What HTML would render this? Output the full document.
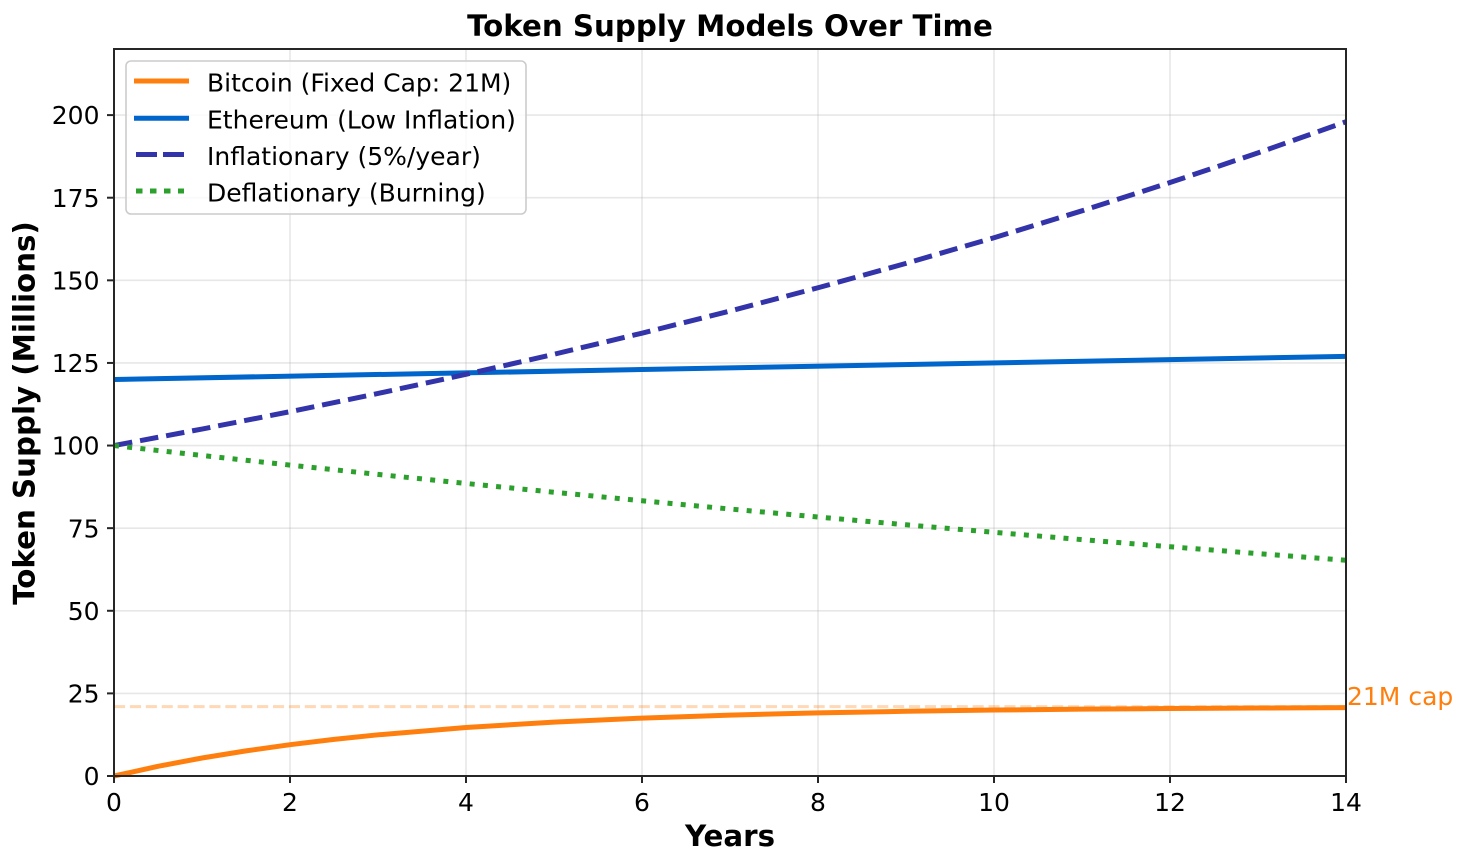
<!DOCTYPE html>
<html>
<head>
<meta charset="utf-8">
<style>
  html, body { margin: 0; padding: 0; background: #ffffff; }
  svg { display: block; }
  text { font-family: "DejaVu Sans", "Liberation Sans", sans-serif; }
</style>
</head>
<body>
<svg width="1466" height="866" viewBox="0 0 1466 866" xmlns="http://www.w3.org/2000/svg">
  <rect x="0" y="0" width="1466" height="866" fill="#ffffff"/>

  <!-- Grid -->
  <g stroke="#b0b0b0" stroke-opacity="0.3" stroke-width="1.6">
    <line x1="114" y1="49" x2="114" y2="776"/>
    <line x1="290" y1="49" x2="290" y2="776"/>
    <line x1="466" y1="49" x2="466" y2="776"/>
    <line x1="642" y1="49" x2="642" y2="776"/>
    <line x1="818" y1="49" x2="818" y2="776"/>
    <line x1="994" y1="49" x2="994" y2="776"/>
    <line x1="1170" y1="49" x2="1170" y2="776"/>
    <line x1="1346" y1="49" x2="1346" y2="776"/>
    <line x1="114" y1="693.39" x2="1346" y2="693.39"/>
    <line x1="114" y1="610.78" x2="1346" y2="610.78"/>
    <line x1="114" y1="528.16" x2="1346" y2="528.16"/>
    <line x1="114" y1="445.55" x2="1346" y2="445.55"/>
    <line x1="114" y1="362.94" x2="1346" y2="362.94"/>
    <line x1="114" y1="280.33" x2="1346" y2="280.33"/>
    <line x1="114" y1="197.71" x2="1346" y2="197.71"/>
    <line x1="114" y1="115.1" x2="1346" y2="115.1"/>
  </g>

  <!-- 21M cap dashed line -->
  <line x1="114" y1="706.6" x2="1346" y2="706.6" stroke="#ff7f0e" stroke-opacity="0.3" stroke-width="3" stroke-dasharray="11.1 4.8"/>

  <!-- Bitcoin -->
  <polyline fill="none" stroke="#ff7f0e" stroke-width="5" stroke-linejoin="round"
    points="114,776 158,766.33 202,758.01 246,750.85 290,744.69 334,739.39 378,734.82 466,727.51 554,722.09 642,718.08 730,715.11 818,712.90 906,711.27 994,710.06 1082,709.17 1170,708.50 1258,708.01 1346,707.65"/>

  <!-- Ethereum -->
  <line x1="114" y1="379.46" x2="1346" y2="356.33" stroke="#0066cc" stroke-width="5"/>

  <!-- Inflationary -->
  <polyline fill="none" stroke="#3333aa" stroke-width="5" stroke-dasharray="18.5 8"
    points="114,445.55 202,429.03 290,411.68 378,393.46 466,374.34 554,354.25 642,333.16 730,311.03 818,287.77 906,263.36 994,237.73 1082,210.82 1170,182.55 1258,152.89 1346,121.73"/>

  <!-- Deflationary -->
  <polyline fill="none" stroke="#2ca02c" stroke-width="5" stroke-dasharray="5 8.25"
    points="114,445.55 202,455.46 290,465.08 378,474.40 466,483.45 554,492.24 642,500.74 730,509.00 818,517.02 906,524.79 994,532.33 1082,539.63 1170,546.73 1258,553.60 1346,560.28"/>

  <!-- Spines -->
  <rect x="114" y="49" width="1232" height="727" fill="none" stroke="#262626" stroke-width="2"/>

  <!-- Ticks -->
  <g stroke="#262626" stroke-width="2">
    <line x1="114" y1="776" x2="114" y2="783"/>
    <line x1="290" y1="776" x2="290" y2="783"/>
    <line x1="466" y1="776" x2="466" y2="783"/>
    <line x1="642" y1="776" x2="642" y2="783"/>
    <line x1="818" y1="776" x2="818" y2="783"/>
    <line x1="994" y1="776" x2="994" y2="783"/>
    <line x1="1170" y1="776" x2="1170" y2="783"/>
    <line x1="1346" y1="776" x2="1346" y2="783"/>
    <line x1="107" y1="776" x2="114" y2="776"/>
    <line x1="107" y1="693.39" x2="114" y2="693.39"/>
    <line x1="107" y1="610.78" x2="114" y2="610.78"/>
    <line x1="107" y1="528.16" x2="114" y2="528.16"/>
    <line x1="107" y1="445.55" x2="114" y2="445.55"/>
    <line x1="107" y1="362.94" x2="114" y2="362.94"/>
    <line x1="107" y1="280.33" x2="114" y2="280.33"/>
    <line x1="107" y1="197.71" x2="114" y2="197.71"/>
    <line x1="107" y1="115.1" x2="114" y2="115.1"/>
  </g>

  <!-- X tick labels -->
  <g font-size="25" fill="#000" text-anchor="middle">
    <text x="114" y="811">0</text>
    <text x="290" y="811">2</text>
    <text x="466" y="811">4</text>
    <text x="642" y="811">6</text>
    <text x="818" y="811">8</text>
    <text x="994" y="811">10</text>
    <text x="1170" y="811">12</text>
    <text x="1346" y="811">14</text>
  </g>

  <!-- Y tick labels -->
  <g font-size="25" fill="#000" text-anchor="end">
    <text x="99.5" y="785.1">0</text>
    <text x="99.5" y="702.5">25</text>
    <text x="99.5" y="619.9">50</text>
    <text x="99.5" y="537.3">75</text>
    <text x="99.5" y="454.7">100</text>
    <text x="99.5" y="372.0">125</text>
    <text x="99.5" y="289.4">150</text>
    <text x="99.5" y="206.8">175</text>
    <text x="99.5" y="124.2">200</text>
  </g>

  <!-- 21M cap label -->
  <text x="1347" y="705" font-size="25" fill="#ff7f0e">21M cap</text>

  <!-- Axis labels and title -->
  <text x="730" y="36" font-size="29.3" font-weight="bold" text-anchor="middle" fill="#000">Token Supply Models Over Time</text>
  <text x="730" y="846" font-size="29.3" font-weight="bold" text-anchor="middle" fill="#000">Years</text>
  <text transform="translate(34.5,413) rotate(-90)" font-size="29.3" font-weight="bold" text-anchor="middle" fill="#000">Token Supply (Millions)</text>

  <!-- Legend -->
  <rect x="126" y="61" width="400" height="153" rx="5" ry="5" fill="#ffffff" fill-opacity="0.8" stroke="#cccccc" stroke-width="1.6"/>
  <line x1="136.5" y1="81" x2="186.5" y2="81" stroke="#ff7f0e" stroke-width="5" stroke-linecap="square"/>
  <line x1="136.5" y1="118.3" x2="186.5" y2="118.3" stroke="#0066cc" stroke-width="5" stroke-linecap="square"/>
  <line x1="136" y1="154.5" x2="184" y2="154.5" stroke="#3333aa" stroke-width="5" stroke-dasharray="21 6"/>
  <line x1="136" y1="191" x2="184" y2="191" stroke="#2ca02c" stroke-width="5" stroke-dasharray="6.5 7.5"/>
  <g font-size="25" fill="#000">
    <text x="207" y="91.7">Bitcoin (Fixed Cap: 21M)</text>
    <text x="207" y="128.3">Ethereum (Low Inflation)</text>
    <text x="207" y="164.9">Inflationary (5%/year)</text>
    <text x="207" y="201.5">Deflationary (Burning)</text>
  </g>
</svg>
</body>
</html>
